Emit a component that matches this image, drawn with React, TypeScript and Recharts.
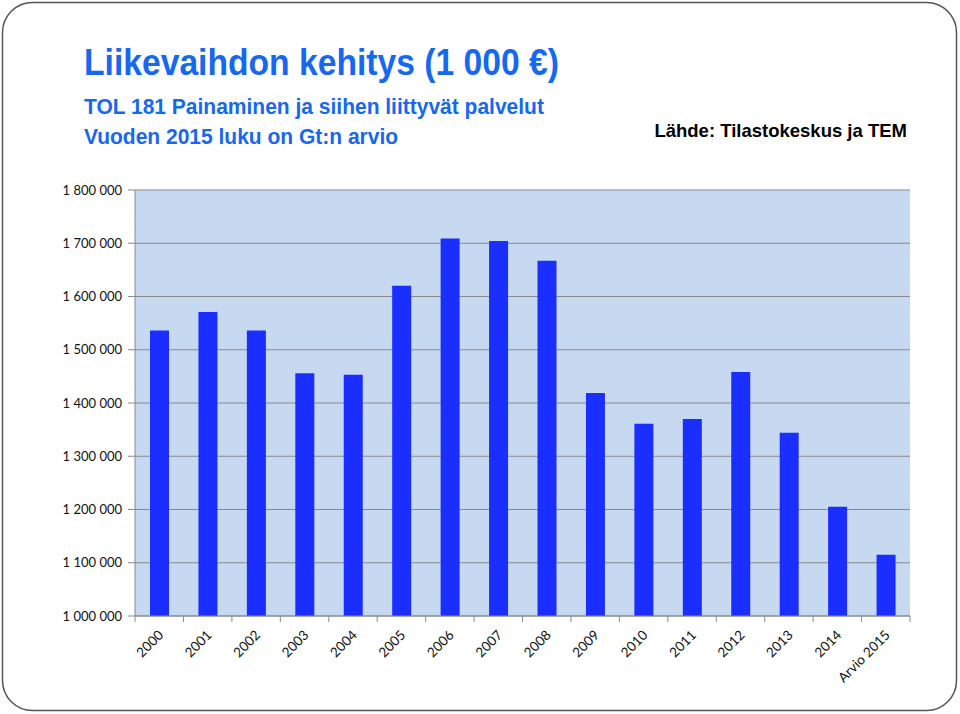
import { BarChart, Bar, XAxis, YAxis, CartesianGrid } from 'recharts';

// Liikevaihto (1 000 €), luettu kuvasta
const years = ['2000', '2001', '2002', '2003', '2004', '2005', '2006', '2007', '2008', '2009', '2010', '2011', '2012', '2013', '2014', 'Arvio 2015'];
const revenue = [1536000, 1571000, 1536000, 1456000, 1453000, 1620000, 1709000, 1704000, 1667000, 1419000, 1361000, 1370000, 1458000, 1344000, 1205000, 1115000];
const yTicks = [1000000, 1100000, 1200000, 1300000, 1400000, 1500000, 1600000, 1700000, 1800000];

const data = years.map((year, i) => ({ year, value: revenue[i] }));

const TITLE_BLUE = '#1668f0';
const BAR_BLUE = '#1a2eff';
const AXIS_GREY = '#8a8a8a';

const fmt = (v: number) => String(v).replace(/\B(?=(\d{3})+(?!\d))/g, ' ');

// Excel-tyyliset tikit luokkien rajoilla, otsikot vinossa
const YearTick = (props: any) => {
  const { x, y, payload, index } = props;
  const half = payload && payload.offset ? payload.offset : 24.2;
  const last = index === years.length - 1;
  const tx = x + 5;
  const ty = y + 20;
  return (
    <g>
      <line x1={x - half} y1={y} x2={x - half} y2={y + 6} stroke={AXIS_GREY} />
      {last && <line x1={x + half} y1={y} x2={x + half} y2={y + 6} stroke={AXIS_GREY} />}
      <text
        x={tx}
        y={ty}
        textAnchor="end"
        transform={`rotate(-45 ${tx} ${ty})`}
        fontFamily="Lato, 'Open Sans', sans-serif"
        fontSize={13.5}
        fill="#111"
      >
        {payload.value}
      </text>
    </g>
  );
};

export default function App() {
  return (
    <div style={{ position: 'absolute', left: 0, top: 0, width: 960, height: 714, background: '#fff' }}>
      <BarChart
        width={960}
        height={714}
        data={data}
        margin={{ top: 190, right: 50, bottom: 38, left: 0 }}
        style={{ position: 'absolute', left: 0, top: 0 }}
      >
        <CartesianGrid fill="#c6d9f1" vertical={false} stroke={AXIS_GREY} strokeWidth={1} />
        <XAxis
          dataKey="year"
          interval={0}
          height={60}
          tickLine={false}
          tickSize={0}
          tickMargin={0}
          stroke={AXIS_GREY}
          tick={<YearTick />}
        />
        <YAxis
          width={135}
          domain={[1000000, 1800000]}
          ticks={yTicks}
          allowDataOverflow
          tickFormatter={fmt}
          tickSize={7}
          tickMargin={6}
          stroke={AXIS_GREY}
          tick={{ fill: '#111', fontSize: 13, fontFamily: "Lato, 'Open Sans', sans-serif" }}
        />
        <Bar dataKey="value" fill={BAR_BLUE} barSize={19} isAnimationActive={false} />
      </BarChart>
      <svg width={960} height={714} style={{ position: 'absolute', left: 0, top: 0, pointerEvents: 'none' }}>
        <rect x={2.5} y={2.5} width={954} height={708} rx={30} ry={30} fill="none" stroke="#555" strokeWidth={1.5} />
        <g fontFamily="'Liberation Sans', Arial, sans-serif" fontWeight="bold">
          <g transform="translate(84 75) scale(0.99 1.1)">
            <text x={0} y={0} fontSize={34} fill={TITLE_BLUE}>Liikevaihdon kehitys (1 000 €)</text>
          </g>
          <g transform="translate(84 114) scale(1 1.05)">
            <text x={0} y={0} fontSize={21} fill={TITLE_BLUE}>TOL 181 Painaminen ja siihen liittyvät palvelut</text>
          </g>
          <g transform="translate(84 144) scale(1 1.05)">
            <text x={0} y={0} fontSize={21} fill={TITLE_BLUE}>Vuoden 2015 luku on Gt:n arvio</text>
          </g>
          <text x={907} y={137} fontSize={18.5} fill="#000" textAnchor="end">Lähde: Tilastokeskus ja TEM</text>
        </g>
      </svg>
    </div>
  );
}
